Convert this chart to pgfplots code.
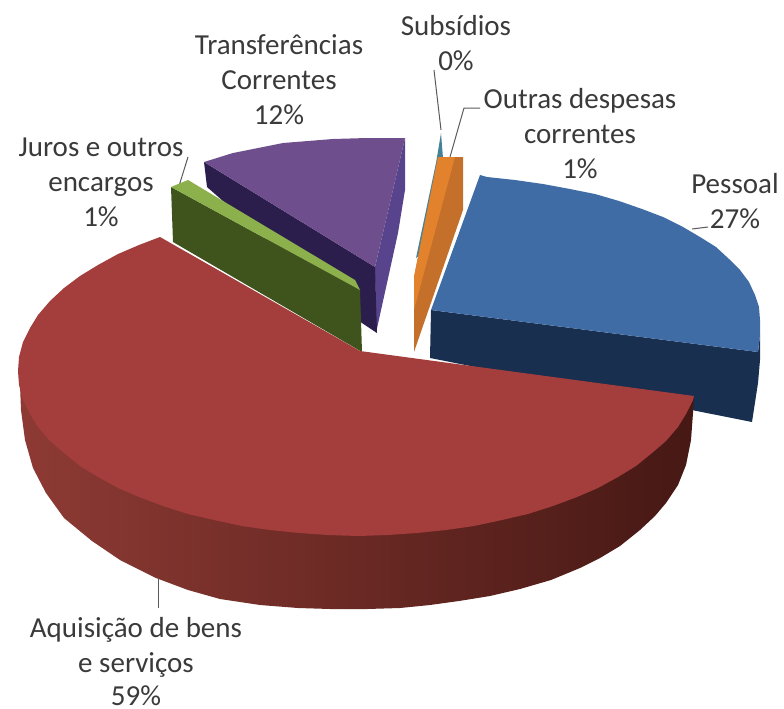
\documentclass[border=0pt]{standalone}
\usepackage{pgfplots}
\pgfplotsset{compat=1.18}
\usepackage{fontspec}
\setmainfont{Carlito}
\definecolor{txt}{RGB}{58,58,58}
\definecolor{ldr}{RGB}{90,90,90}
\definecolor{bluetop}{RGB}{64,108,166}
\definecolor{blueside}{RGB}{24,47,79}
\definecolor{redtop}{RGB}{164,62,60}
\definecolor{redsideL}{RGB}{142,58,52}
\definecolor{redsideM}{RGB}{104,38,32}
\definecolor{redsideR}{RGB}{70,24,20}
\definecolor{purpletop}{RGB}{110,78,140}
\definecolor{purpleside}{RGB}{44,30,76}
\definecolor{purplein}{RGB}{88,68,140}
\definecolor{greentop}{RGB}{140,176,76}
\definecolor{greenside}{RGB}{62,84,28}
\definecolor{orangetop}{RGB}{226,130,44}
\definecolor{orangeside}{RGB}{196,112,42}
\definecolor{tealtop}{RGB}{70,130,150}
\tikzset{lbl/.style={font=\fontsize{29}{35}\selectfont,text=txt,align=center,inner sep=0pt}}
\begin{document}
\begin{tikzpicture}
\begin{axis}[
  scale only axis, width=784pt, height=709pt,
  xmin=0, xmax=784, ymin=0, ymax=709, y dir=reverse,
  hide axis, clip=false,
]
% keeps the page as large as the axis
\addplot[draw=none] coordinates {(0,0)(784,709)};
% leader lines
\addplot[draw=ldr,line width=1pt] coordinates {(188,157)(179,186)};
\addplot[draw=ldr,line width=1pt] coordinates {(434,70)(441,130)};
\addplot[draw=ldr,line width=1pt] coordinates {(480,108)(464,108)(450,157)};
\addplot[draw=ldr,line width=1pt] coordinates {(708,227)(692,229)};
% subsidios sliver
\addplot[draw=none,fill=tealtop] coordinates {(441,133)(443,158)(420,255)(416,258)(436,163)} -- cycle;
% orange
\addplot[draw=none,fill=orangeside] coordinates {(438,157)(463,157)(463,210)(414,352)(414,277)} -- cycle;
\addplot[draw=none,fill=orangetop] coordinates {(438,157)(455,157)(414,310)(414,277)} -- cycle;
% purple
\addplot[draw=none,fill=purplein] coordinates {(405,138)(405,190)(398,233)(376,333)(375,267)} -- cycle;
\addplot[draw=none,fill=purpleside] coordinates {(204,162)(375,267)(377,333)(362,323)(207,187)} -- cycle;
\addplot[draw=none,fill=purpletop] coordinates {(204,162)(233,153)(258,148)(283,143)(308,141)(333,139)(367,138)(405,138)(375,267)} -- cycle;
% green
\addplot[draw=none,fill=greenside] coordinates {(171,187)(360,290)(362,352)(173,242)} -- cycle;
\addplot[draw=none,fill=greentop] coordinates {(171,187)(188,180)(355,280)(360,290)} -- cycle;
% blue
\addplot[draw=none,fill=blueside] coordinates {(431,310)(758,352)(760,335)(760,360)(758,383)(752,422)(430,358)} -- cycle;
\addplot[draw=none,fill=bluetop] coordinates {(480,175)(487,177)(515,180)(543,184)(570,189)(595,194)(619,201)(642,209)(663,217)(683,227)(700,237)(716,247)(729,259)(740,270)(749,282)(755,295)(759,307)(760,320)(760,335)(758,352)(431,310)} -- cycle;
% red side, lighter on the left
\addplot[draw=none,left color=redsideL,middle color=redsideM,right color=redsideR] coordinates {(19,370)(20,385)(21,410)(25,440)(33,468)(46,493)(64,518)(92,541)(120,560)(156,578)(188,590)(220,599)(260,605)(298,608)(330,609)(367,609)(400,608)(430,605)(459,601)(490,596)(520,589)(551,580)(580,568)(600,558)(620,546)(640,530)(655,516)(666,503)(678,485)(686,465)(691,440)(693,413)(694,396)(400,400)} -- cycle;
% red top
\addplot[draw=none,fill=redtop] coordinates {(160,237)(139,245)(118,254)(98,265)(80,276)(64,288)(50,301)(38,315)(30,328)(23,342)(19,357)(18,371)(19,385)(23,400)(30,414)(38,427)(50,441)(64,453)(80,466)(98,477)(118,488)(139,497)(163,506)(188,514)(214,520)(242,526)(270,530)(299,533)(328,535)(358,536)(388,535)(417,533)(446,530)(474,526)(502,520)(528,514)(553,506)(577,497)(598,488)(618,477)(636,466)(652,453)(666,441)(678,427)(686,414)(693,400)(694,396)(360,351)} -- cycle;
% leader red
\addplot[draw=ldr,line width=1pt] coordinates {(158,578)(158,608)};
% labels
\node[lbl] at (axis cs:279,80) {Transferências\\Correntes\\12\%};
\node[lbl] at (axis cs:101,182) {Juros e outros\\encargos\\1\%};
\node[lbl] at (axis cs:456,43) {Subsídios\\0\%};
\node[lbl] at (axis cs:580,134) {Outras despesas\\correntes\\1\%};
\node[lbl] at (axis cs:735,201) {Pessoal\\27\%};
\node[lbl] at (axis cs:136,630) {Aquisição de bens};
\node[lbl] at (axis cs:136,665) {e serviços};
\node[lbl] at (axis cs:136,696) {59\%};
\end{axis}
\end{tikzpicture}
\end{document}
